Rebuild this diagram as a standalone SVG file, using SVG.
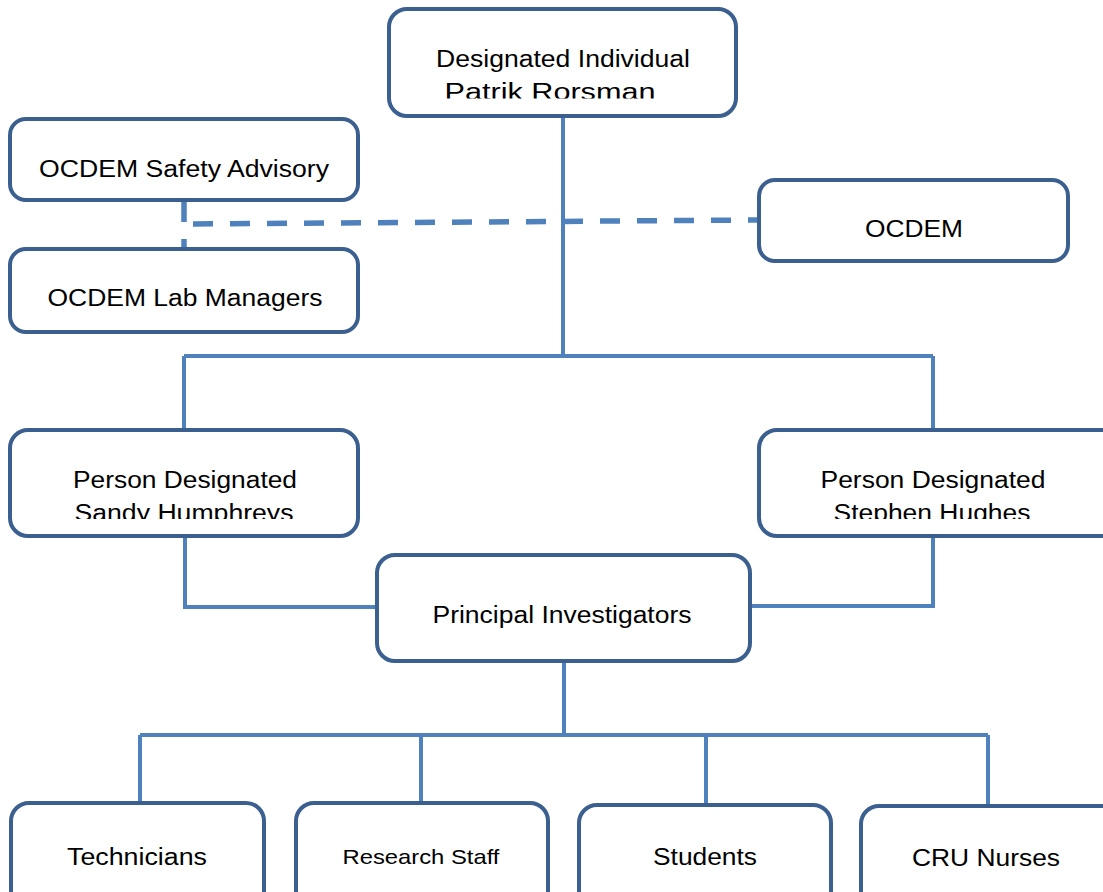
<svg xmlns="http://www.w3.org/2000/svg" width="1103" height="892" viewBox="0 0 1103 892">
<style>
.box{fill:#fff;stroke:#3B5F8E;stroke-width:4}
.t{font-family:"Liberation Sans",Arial,sans-serif;font-size:23.5px;fill:#000;text-anchor:middle}
.s{font-size:21px}
.c{fill:none;stroke:#4F81BD;stroke-width:4}
.d{fill:none;stroke:#4F81BD;stroke-width:5.5;stroke-dasharray:20 17}
</style>
<defs>
<clipPath id="clipTop"><rect x="389" y="9" width="347" height="89.5"/></clipPath>
<clipPath id="clipSandy"><rect x="10" y="430" width="348" height="89"/></clipPath>
<clipPath id="clipStephen"><rect x="759" y="430" width="344" height="89"/></clipPath>
</defs>
<rect width="1103" height="892" fill="#fff"/>
<g id="connectors">
<path class="c" d="M563 118V356M184 356H933M184 356V430M933 356V430"/>
<path class="c" d="M185 538V607H377M933 538V606H750"/>
<path class="c" d="M564 663V735M140 735H988M140 735V803M421 735V803M706 735V803M988 735V805"/>
<path class="d" d="M184 202V280"/>
<path class="d" d="M193 224L757 220"/>
</g>
<g id="designated-individual">
<rect class="box" x="389" y="9" width="347" height="107" rx="18"/>
<text class="t" x="563" y="67" textLength="254" lengthAdjust="spacingAndGlyphs">Designated Individual</text>
<text class="t" x="550" y="100" textLength="211" lengthAdjust="spacingAndGlyphs" clip-path="url(#clipTop)">Patrik Rorsman</text>
</g>
<g id="ocdem-safety">
<rect class="box" x="10" y="119" width="348" height="81" rx="16"/>
<text class="t" x="184" y="177" textLength="290" lengthAdjust="spacingAndGlyphs">OCDEM Safety Advisory</text>
</g>
<g id="ocdem-lab">
<rect class="box" x="10" y="249" width="348" height="83" rx="16"/>
<text class="t" x="185" y="306" textLength="275" lengthAdjust="spacingAndGlyphs">OCDEM Lab Managers</text>
</g>
<g id="ocdem">
<rect class="box" x="759" y="180" width="309" height="81" rx="16"/>
<text class="t" x="914" y="237" textLength="98" lengthAdjust="spacingAndGlyphs">OCDEM</text>
</g>
<g id="pd-sandy">
<rect class="box" x="10" y="430" width="348" height="106" rx="18"/>
<text class="t" x="185" y="488" textLength="224" lengthAdjust="spacingAndGlyphs">Person Designated</text>
<text class="t" x="184" y="521" textLength="219" lengthAdjust="spacingAndGlyphs" clip-path="url(#clipSandy)">Sandy Humphreys</text>
</g>
<g id="pd-stephen">
<rect class="box" x="759" y="430" width="360" height="106" rx="18"/>
<text class="t" x="933" y="488" textLength="225" lengthAdjust="spacingAndGlyphs">Person Designated</text>
<text class="t" x="932" y="521" textLength="197" lengthAdjust="spacingAndGlyphs" clip-path="url(#clipStephen)">Stephen Hughes</text>
</g>
<g id="principal-investigators">
<rect class="box" x="377" y="555" width="373" height="106" rx="18"/>
<text class="t" x="562" y="623" textLength="259" lengthAdjust="spacingAndGlyphs">Principal Investigators</text>
</g>
<g id="technicians">
<rect class="box" x="11" y="803" width="253" height="110" rx="18"/>
<text class="t" x="137" y="865" textLength="140" lengthAdjust="spacingAndGlyphs">Technicians</text>
</g>
<g id="research-staff">
<rect class="box" x="296" y="803" width="252" height="110" rx="18"/>
<text class="t s" x="421" y="864" textLength="157" lengthAdjust="spacingAndGlyphs">Research Staff</text>
</g>
<g id="students">
<rect class="box" x="579" y="805" width="252" height="110" rx="18"/>
<text class="t" x="705" y="865" textLength="104" lengthAdjust="spacingAndGlyphs">Students</text>
</g>
<g id="cru-nurses">
<rect class="box" x="861" y="806" width="260" height="110" rx="18"/>
<text class="t" x="986" y="866" textLength="148" lengthAdjust="spacingAndGlyphs">CRU Nurses</text>
</g>
</svg>
